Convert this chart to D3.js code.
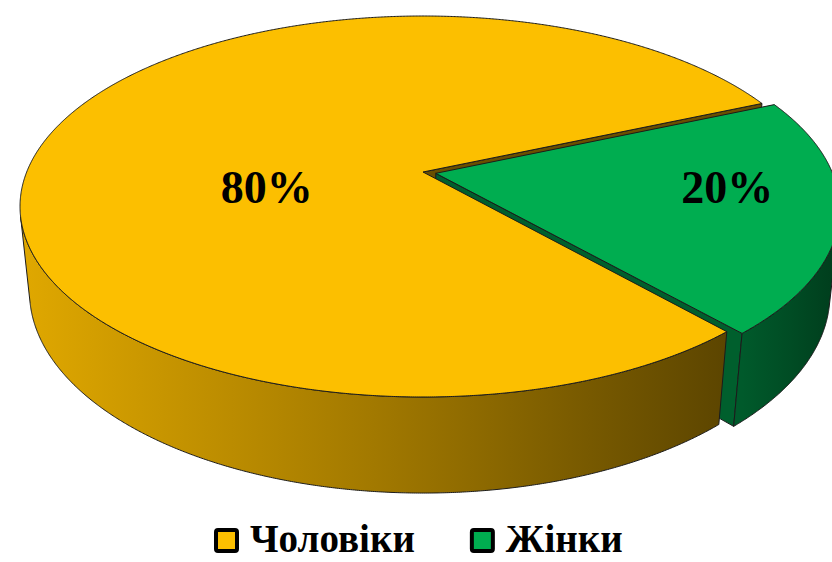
<!DOCTYPE html>
<html><head><meta charset="utf-8">
<script src="https://cdn.jsdelivr.net/npm/d3@7"></script>
<style>body{margin:0;background:#fff;overflow:hidden}</style>
</head><body><svg id="c" width="832" height="562"></svg>
<script>
// ---- data ----
const categories = ["Чоловіки", "Жінки"];
const values = [80, 20];
const labels = ["80%", "20%"];
const topColors = ["#FCBF00", "#00AD50"];
const faceColors = ["#6A4F00", "#005F2D"];
const wallStops = [["#E0A800", "#A27900", "#5C4500"], ["#005A2B", "#004C24", "#003C1C"]];
const explode = [0, 0.033];

// ---- projection (3D perspective of a disc) ----
const cx = 423, cy = 172, f = 1938, D = 4.89;
const sa = 0.4649, ca = Math.sqrt(1 - sa * sa);
const H = 0.2456;
function proj(X, Y, Z) {
  const yc = Y * ca - Z * sa;
  const zc = D - Y * sa - Z * ca;
  return [cx + f * X / zc, cy - f * yc / zc];
}
const cam = [0, D * sa, D * ca];

const svg = d3.select("#c");
const defs = svg.append("defs");

const startDeg = 138.5;
const pie = d3.pie().sort(null).value(d => d)
  .startAngle(startDeg * Math.PI / 180)
  .endAngle(startDeg * Math.PI / 180 + 2 * Math.PI);
const arcs = pie(values).map((d, i) => {
  const t0 = d.startAngle - Math.PI / 2, t1 = d.endAngle - Math.PI / 2;
  const mid = (t0 + t1) / 2;
  const ox = explode[i] * Math.cos(mid), oz = explode[i] * Math.sin(mid);
  return {i, d, t0, t1, mid, ox, oz};
});

const P = (a, t, r, Y) => proj(a.ox + r * Math.cos(t), Y, a.oz + r * Math.sin(t));
const line = d3.line();
const STEP = Math.PI / 720;
function arcPts(a, ta, tb, Y) {
  const n = Math.max(2, Math.ceil(Math.abs(tb - ta) / STEP));
  return d3.range(n + 1).map(k => P(a, ta + (tb - ta) * k / n, 1, Y));
}

const g = svg.append("g").attr("stroke", "#1b1b1b").attr("stroke-width", 1).attr("stroke-linejoin", "round");

// radial faces (cut sides), visible ones only
arcs.forEach(a => {
  [[a.t0, -1], [a.t1, 1]].forEach(([t, s]) => {
    const n = [-s * Math.sin(t), s * Math.cos(t)];
    const v = (cam[0] - a.ox) * n[0] + (cam[2] - a.oz) * n[1];
    if (v <= 0) return;
    const pts = [P(a, t, 0, 0), P(a, t, 1, 0), P(a, t, 1, -H), P(a, t, 0, -H)];
    g.append("path").attr("d", line(pts) + "Z").attr("fill", faceColors[a.i]);
  });
});

// outer walls + top faces
[1, 0].forEach(idx => {
  const a = arcs[idx];
  let va = null, vb = null;
  for (let t = a.t0; t <= a.t1 + 1e-9; t += STEP) {
    const nx = Math.cos(t), nz = Math.sin(t);
    const wx = a.ox + nx, wz = a.oz + nz;
    const dot = (cam[0] - wx) * nx + (cam[2] - wz) * nz;
    if (dot > 0) { if (va === null) va = t; vb = t; }
  }
  if (va !== null) {
    const gid = "wg" + idx;
    const xs = [P(a, va, 1, 0)[0], P(a, vb, 1, 0)[0]];
    const gr = defs.append("linearGradient").attr("id", gid).attr("gradientUnits", "userSpaceOnUse")
      .attr("x1", Math.min(...xs)).attr("x2", Math.max(...xs)).attr("y1", 0).attr("y2", 0);
    wallStops[idx].forEach((c, k) => gr.append("stop").attr("offset", k / (wallStops[idx].length - 1)).attr("stop-color", c));
    const pts = arcPts(a, va, vb, 0).concat(arcPts(a, vb, va, -H));
    g.append("path").attr("d", line(pts) + "Z").attr("fill", `url(#${gid})`);
  }
  const top = [P(a, 0, 0, 0)].concat(arcPts(a, a.t0, a.t1, 0));
  g.append("path").attr("d", line(top) + "Z").attr("fill", topColors[idx]);
});

// data labels
const labelR = v => v > 50 ? 0.41 : 0.73;
arcs.forEach(a => {
  const p = P(a, a.mid, labelR(values[a.i]), 0);
  svg.append("text").attr("x", p[0]).attr("y", cy + 31)
    .attr("text-anchor", "middle")
    .attr("font-family", "'Liberation Serif','Times New Roman',serif")
    .attr("font-weight", "bold").attr("font-size", 46).attr("fill", "#000")
    .text(labels[a.i]);
});

// legend
const lg = svg.append("g");
let x = 214;
categories.forEach((c, i) => {
  lg.append("rect").attr("x", x + 2).attr("y", 530).attr("width", 21).attr("height", 21)
    .attr("rx", 2).attr("fill", topColors[i]).attr("stroke", "#000").attr("stroke-width", 4);
  const t = lg.append("text").attr("x", x + 36).attr("y", 552)
    .attr("font-family", "'Liberation Serif','Times New Roman',serif")
    .attr("font-weight", "bold").attr("font-size", 39).attr("fill", "#000").text(c);
  x = x + 36 + t.node().getComputedTextLength() + 55;
});
</script>
</body></html>
